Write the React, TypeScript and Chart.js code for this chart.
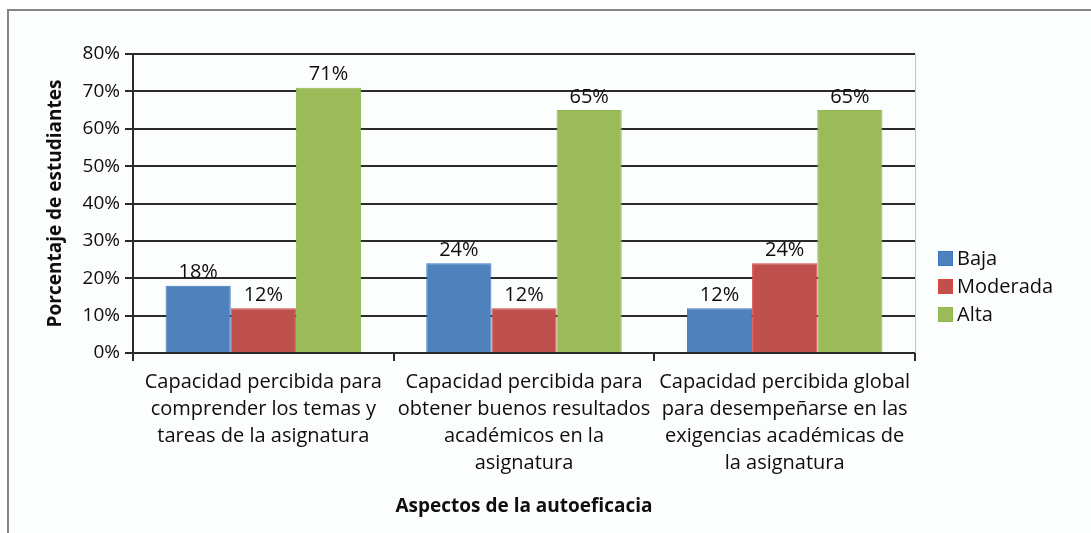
import React, { useEffect, useRef } from "react";
import { Chart, registerables } from "chart.js";

Chart.register(...registerables);

// ---- data ----
const categories: string[][] = [
  ["Capacidad percibida para", "comprender los temas y", "tareas de la asignatura"],
  ["Capacidad percibida para", "obtener buenos resultados", "académicos en la", "asignatura"],
  ["Capacidad percibida global", "para desempeñarse en las", "exigencias académicas de", "la asignatura"],
];
const seriesNames = ["Baja", "Moderada", "Alta"];
const baja = [18, 24, 12];
const moderada = [12, 12, 24];
const alta = [71, 65, 65];
const yMin = 0;
const yMax = 80;
const yStep = 10;
const yAxisTitle = "Porcentaje de estudiantes";
const xAxisTitle = "Aspectos de la autoeficacia";

const FONT = "'Open Sans', 'Noto Sans', sans-serif";
const TEXT = "#0e0e0e";
const fills = ["#4f81bd", "#c0504d", "#9bbb59"];
const borders = ["#3a76c6", "#dc4640", "#8fb850"];

const framePlugin = {
  id: "frame",
  beforeDraw(chart: any) {
    const ctx = chart.ctx;
    ctx.save();
    ctx.fillStyle = "#ffffff";
    ctx.fillRect(0, 0, chart.width, chart.height);
    ctx.fillStyle = "#fcfdfd";
    ctx.fillRect(9, 11, chart.width - 9, chart.height - 11);
    ctx.strokeStyle = "#858585";
    ctx.lineWidth = 2;
    ctx.beginPath();
    ctx.moveTo(8, chart.height);
    ctx.lineTo(8, 10);
    ctx.lineTo(chart.width, 10);
    ctx.stroke();
    ctx.restore();
  },
  afterDraw(chart: any) {
    const ctx = chart.ctx;
    const a = chart.chartArea;
    ctx.save();
    ctx.strokeStyle = "#c4c4c4";
    ctx.lineWidth = 1;
    ctx.beginPath();
    ctx.moveTo(a.right + 0.5, a.top);
    ctx.lineTo(a.right + 0.5, a.bottom);
    ctx.stroke();
    ctx.restore();
  },
};

const labelPlugin = {
  id: "barLabels",
  afterDatasetsDraw(chart: any) {
    const ctx = chart.ctx;
    ctx.save();
    ctx.font = `20px ${FONT}`;
    ctx.fillStyle = TEXT;
    ctx.textAlign = "center";
    ctx.textBaseline = "bottom";
    chart.data.datasets.forEach((ds: any, i: number) => {
      const meta = chart.getDatasetMeta(i);
      meta.data.forEach((bar: any, j: number) => {
        ctx.fillText(`${ds.data[j]}%`, bar.x, bar.y - 3);
      });
    });
    ctx.restore();
  },
};

const legendPlugin = {
  id: "sideLegend",
  afterDraw(chart: any) {
    const ctx = chart.ctx;
    const a = chart.chartArea;
    const x0 = a.right + 23;
    const yc = (a.top + a.bottom) / 2 + 83;
    const gap = 28;
    const box = 15;
    ctx.save();
    ctx.font = `20px ${FONT}`;
    ctx.textAlign = "left";
    ctx.textBaseline = "middle";
    chart.data.datasets.forEach((ds: any, i: number) => {
      const y = yc + (i - 1) * gap;
      ctx.fillStyle = ds.backgroundColor;
      ctx.fillRect(x0, y - box / 2, box, box);
      ctx.strokeStyle = ds.borderColor;
      ctx.lineWidth = 1;
      ctx.strokeRect(x0 + 0.5, y - box / 2 + 0.5, box - 1, box - 1);
      ctx.fillStyle = TEXT;
      ctx.fillText(ds.label, x0 + box + 4, y + 1);
    });
    ctx.restore();
  },
};

export default function App() {
  const ref = useRef<HTMLCanvasElement | null>(null);

  useEffect(() => {
    if (!ref.current) return;
    const seriesValues = [baja, moderada, alta];
    const chart = new Chart(ref.current, {
      type: "bar",
      data: {
        labels: categories,
        datasets: seriesNames.map((name, i) => ({
          label: name,
          data: seriesValues[i],
          backgroundColor: fills[i],
          borderColor: borders[i],
          borderWidth: 1,
          categoryPercentage: 0.75,
          barPercentage: 1,
        })),
      },
      options: {
        animation: false,
        responsive: false,
        maintainAspectRatio: false,
        layout: { padding: { left: 8, top: 54, right: 176, bottom: 0 } },
        plugins: {
          legend: { display: false },
          tooltip: { enabled: false },
        },
        scales: {
          x: {
            grid: {
              display: true,
              drawOnChartArea: false,
              drawTicks: true,
              tickLength: 8,
              color: "#2a2a2a",
              lineWidth: 2,
              offset: true,
            },
            border: { display: true, color: "#2a2a2a", width: 2 },
            ticks: {
              font: { family: FONT, size: 20, lineHeight: "27px" },
              color: TEXT,
              padding: 8,
              maxRotation: 0,
              autoSkip: false,
            },
            title: {
              display: true,
              text: xAxisTitle,
              font: { family: FONT, size: 19, weight: "bold" },
              color: TEXT,
              padding: { top: 0, bottom: 15 },
            },
            afterFit: (s: any) => {
              s.height = 180;
            },
          },
          y: {
            min: yMin,
            max: yMax,
            ticks: {
              stepSize: yStep,
              callback: (v: any) => `${v}%`,
              font: { family: FONT, size: 19 },
              color: TEXT,
              padding: 5,
            },
            grid: {
              color: "#2a2a2a",
              lineWidth: 2,
              tickLength: 8,
            },
            border: { display: true, color: "#2a2a2a", width: 2 },
            title: {
              display: true,
              text: yAxisTitle,
              font: { family: FONT, size: 19, weight: "bold" },
              color: TEXT,
              padding: { top: 36, bottom: 0 },
            },
            afterFit: (s: any) => {
              s.width = 125;
            },
          },
        },
      } as any,
      plugins: [framePlugin, labelPlugin, legendPlugin],
    });
    return () => chart.destroy();
  }, []);

  return (
    <div style={{ position: "fixed", left: 0, top: 0, width: 1091, height: 533 }}>
      <canvas ref={ref} width={1091} height={533} style={{ width: 1091, height: 533, display: "block" }} />
    </div>
  );
}
